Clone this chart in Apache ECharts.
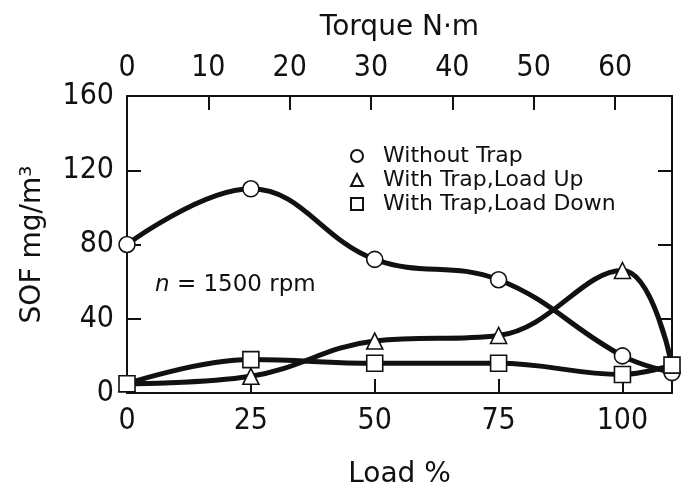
<!DOCTYPE html>
<html>
<head>
<meta charset="utf-8">
<script src="https://cdn.jsdelivr.net/npm/echarts@6/dist/echarts.min.js"></script>
<style>
  html, body { margin: 0; padding: 0; background: #fff; }
  #chart { width: 689px; height: 494px; }
</style>
</head>
<body>
<div id="chart"></div>
<script>
// 负载 (%)
var loads = [0, 25, 50, 75, 100, 110];
// SOF mg/m3
var withoutTrap = [80, 110, 72, 61, 20, 11];
var trapLoadUp = [5, 9, 28, 31, 66, 15];
var trapLoadDown = [5, 18, 16, 16, 10, 15];

var seriesNames = ['Without Trap', 'With Trap,Load Up', 'With Trap,Load Down'];
var seriesSymbols = ['circle', 'triangle', 'rect'];

var torqueMax = 67;
var font = 'DejaVu Sans';
var tickFont = '"Liberation Sans Narrow", "DejaVu Sans Condensed", sans-serif';

function pairs(ys) {
    return loads.map(function (x, i) { return [x, ys[i]]; });
}

function makeSeries(name, ys, symbol) {
    return {
        name: name,
        type: 'line',
        data: pairs(ys),
        smooth: 0.4,
        symbol: symbol,
        symbolSize: 16,
        lineStyle: { color: '#111', width: 5 },
        itemStyle: { color: '#fff', borderColor: '#111', borderWidth: 1.6 },
        z: 3
    };
}

var chart = echarts.init(document.getElementById('chart'));

var axisLine = { onZero: false, lineStyle: { color: '#111', width: 2 } };
var tickIn = { inside: true, length: 14, lineStyle: { color: '#111', width: 2 } };
var labelStyle = { color: '#111', fontSize: 30, fontFamily: tickFont };
var nameStyle = { color: '#111', fontSize: 28, fontFamily: font };

chart.setOption({
    animation: false,
    backgroundColor: '#fff',
    grid: { left: 127, right: 17, top: 96, bottom: 96 },
    xAxis: [{
        type: 'value', min: 0, max: 110, interval: 25,
        position: 'bottom',
        axisLine: axisLine, axisTick: tickIn,
        axisLabel: Object.assign({ margin: 13, showMaxLabel: false }, labelStyle),
        splitLine: { show: false },
        name: 'Load %', nameLocation: 'middle', nameGap: 68,
        nameTextStyle: nameStyle
    }, {
        type: 'value', min: 0, max: torqueMax, interval: 10,
        position: 'top',
        axisLine: axisLine, axisTick: tickIn,
        axisLabel: Object.assign({ margin: 13, showMaxLabel: false }, labelStyle),
        splitLine: { show: false },
        name: 'Torque N·m', nameLocation: 'middle', nameGap: 54,
        nameTextStyle: nameStyle
    }],
    yAxis: [{
        type: 'value', min: 0, max: 160, interval: 40,
        position: 'left',
        axisLine: axisLine, axisTick: tickIn,
        axisLabel: Object.assign({ margin: 13 }, labelStyle),
        splitLine: { show: false },
        name: 'SOF mg/m³', nameLocation: 'middle', nameGap: 80,
        nameTextStyle: nameStyle
    }, {
        type: 'value', min: 0, max: 160, interval: 40,
        position: 'right',
        axisLine: axisLine, axisTick: tickIn,
        axisLabel: { show: false },
        splitLine: { show: false }
    }],
    legend: {
        orient: 'vertical',
        left: 345, top: 140,
        itemWidth: 12, itemHeight: 12, itemGap: 2,
        data: seriesNames.map(function (n, i) { return { name: n, icon: seriesSymbols[i] }; }),
        textStyle: { color: '#111', fontSize: 22, fontFamily: font, padding: [0, 0, 0, 15] }
    },
    graphic: [{
        type: 'text',
        left: 155, top: 274,
        style: {
            text: '{i|n} = 1500 rpm',
            fill: '#111',
            fontSize: 23,
            fontFamily: font,
            rich: { i: { fontStyle: 'italic', fontSize: 23, fontFamily: font, fill: '#111' } }
        }
    }],
    series: [
        makeSeries(seriesNames[0], withoutTrap, seriesSymbols[0]),
        makeSeries(seriesNames[1], trapLoadUp, seriesSymbols[1]),
        makeSeries(seriesNames[2], trapLoadDown, seriesSymbols[2])
    ]
});

window.addEventListener('resize', function () { chart.resize(); });
</script>
</body>
</html>
